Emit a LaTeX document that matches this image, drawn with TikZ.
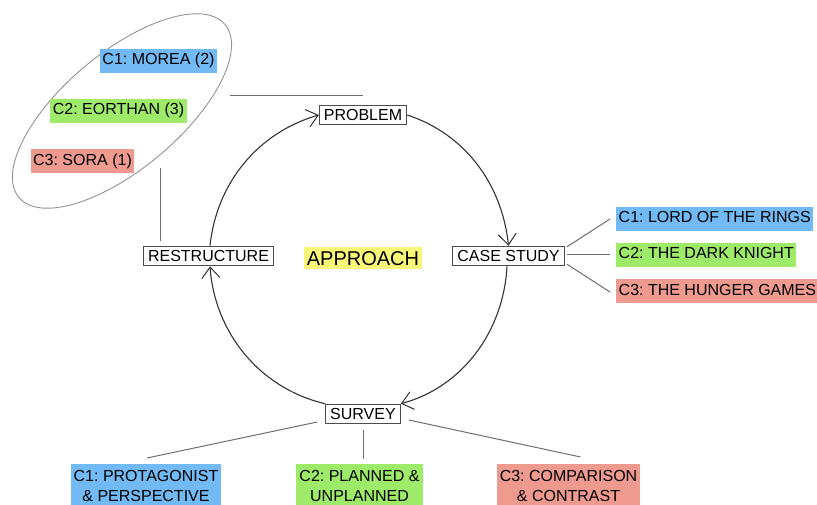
\documentclass[tikz,border=0pt]{standalone}
\usepackage{fontspec}
\setmainfont{Liberation Sans}
\usetikzlibrary{arrows.meta,calc}
\frenchspacing

\definecolor{tagblue}{HTML}{72BAF5}
\definecolor{taggreen}{HTML}{9DEB69}
\definecolor{tagred}{HTML}{EE9A8F}
\definecolor{tagyellow}{HTML}{F9F777}
\definecolor{linkgray}{HTML}{6E6E6E}
\definecolor{arcgray}{HTML}{333333}

\tikzset{
  stage/.style={draw=black!70, line width=1.1pt, fill=white,
    inner xsep=4.5pt, inner ysep=4pt, text height=11.5pt, text depth=0pt,
    font=\fontsize{16}{19}\selectfont},
  tag/.style={inner xsep=2.5pt, inner ysep=4pt, text height=12pt, text depth=4pt,
    font=\fontsize{16}{19}\selectfont},
  tagtwo/.style={inner xsep=3pt, inner ysep=6pt, align=center,
    font=\fontsize{16}{20}\selectfont},
  cyclearrow/.style={draw=arcgray, line width=1.1pt,
    -{Straight Barb[length=11pt,width=18pt,line width=1pt]}},
  link/.style={draw=linkgray, line width=1pt},
}

\begin{document}
\begin{tikzpicture}[x=1pt,y=-1pt]
\useasboundingbox (0,0) rectangle (817,505);

% the four stages of the cycle
\node[stage] (problem) at (363,115) {PROBLEM};
\node[stage] (casestudy) at (508.5,256) {CASE STUDY};
\node[stage] (survey) at (363,414) {SURVEY};
\node[stage] (restructure) at (208.5,256) {RESTRUCTURE};

\node[fill=tagyellow, inner xsep=3pt, inner ysep=4pt, text height=14.5pt, text depth=0pt,
      font=\fontsize{20}{24}\selectfont] (approach) at (363,258) {APPROACH};

% clockwise cycle
\draw[cyclearrow] ([xshift=1.5pt]restructure.north) to[out=84,in=196,looseness=0.95] (problem.west);
\draw[cyclearrow] (problem.east) to[out=-18,in=96,looseness=0.95] (casestudy.north);
\draw[cyclearrow] ([xshift=-1.5pt]casestudy.south) to[out=-93,in=15,looseness=0.95] (survey.north east);
\draw[cyclearrow] (survey.north west) to[out=167,in=-86,looseness=0.95] ([xshift=1.5pt]restructure.south);

% group of concepts around the restructure stage
\draw[gray!85, line width=0.9pt, rotate around={40:(122,111)}]
  (122,111) ellipse [x radius=134.5, y radius=58];
\node[tag, fill=tagblue] (morea) at (158.5,61) {C1: MOREA (2)};
\node[tag, fill=taggreen] (eorthan) at (118.5,111) {C2: EORTHAN (3)};
\node[tag, fill=tagred] (sora) at (82.5,161.5) {C3: SORA (1)};
\coordinate (grouptop) at (230,96);
\coordinate (groupbottom) at (160,168);
\draw[link] (grouptop) -- ($(problem.north |- grouptop)$);
\draw[link] (groupbottom) -- ($(restructure.north -| groupbottom)+(0,-5)$);

% case studies
\node[tag, fill=tagblue, anchor=west] (lotr) at (616,219) {C1: LORD OF THE RINGS};
\node[tag, fill=taggreen, anchor=west] (knight) at (616,255) {C2: THE DARK KNIGHT};
\node[tag, fill=tagred, anchor=west] (hunger) at (616,291) {C3: THE HUNGER GAMES};
\draw[link] ($(casestudy.east)+(2,-9)$) -- ($(lotr.west)+(-6,0)$);
\draw[link] ($(casestudy.east)+(2,-1)$) -- ($(knight.west)+(-6,0)$);
\draw[link] ($(casestudy.east)+(2,8)$) -- ($(hunger.west)+(-6,1)$);

% survey topics
\node[tagtwo, fill=tagblue, anchor=north] (protag) at (146,464) {C1: PROTAGONIST\\\& PERSPECTIVE};
\node[tagtwo, fill=taggreen, anchor=north] (planned) at (359.5,464) {C2: PLANNED \&\\UNPLANNED};
\node[tagtwo, fill=tagred, anchor=north] (compare) at (568.5,464) {C3: COMPARISON\\\& CONTRAST};
\draw[link] ($(survey.west)+(-8,8)$) -- ($(protag.north)+(1,-6)$);
\draw[link] ($(survey.south)+(0,6)$) -- ($(survey.south |- planned.north)+(0,-5)$);
\draw[link] ($(survey.east)+(8,6)$) -- ($(compare.north)+(12,-7)$);
\end{tikzpicture}
\end{document}
